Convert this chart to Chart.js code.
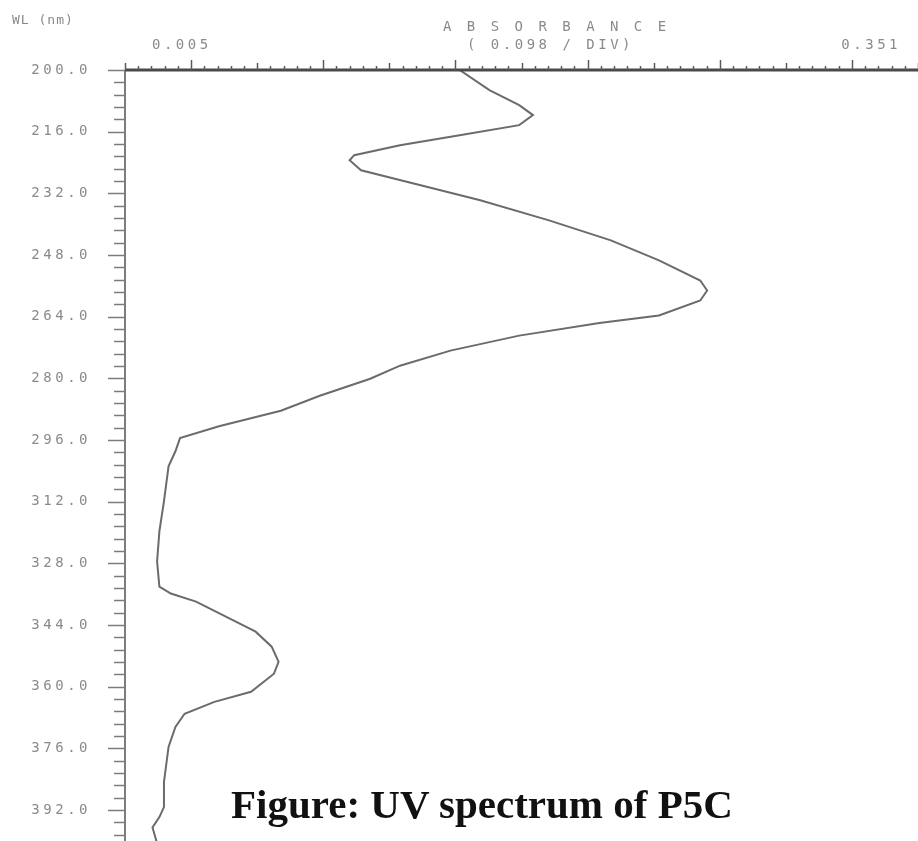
<!DOCTYPE html>
<html>
<head>
<meta charset="utf-8">
<title>UV spectrum of P5C</title>
<script src="https://cdn.jsdelivr.net/npm/chart.js@4.4.1/dist/chart.umd.min.js"></script>
<style>
  html, body { margin: 0; padding: 0; background: #fff; }
  .wrap { position: relative; width: 918px; height: 841px; overflow: hidden; }
  #uv { display: block; }
  .caption {
    position: absolute; left: 231px; top: 784px;
    font: bold 41px "Liberation Serif", "Times New Roman", serif;
    line-height: 41px; color: #111; white-space: nowrap;
  }
</style>
</head>
<body>
<div class="wrap">
  <canvas id="uv" width="918" height="841"></canvas>
  <div class="caption">Figure: UV spectrum of P5C</div>
</div>
<script>
// spectrum (wavelength in nm, absorbance)
const wavelength = [
  200.0, 205.2, 209.1, 211.7, 214.3, 216.9, 219.5, 222.1, 223.4, 226.0,
  229.9, 233.8, 239.0, 244.2, 249.4, 254.6, 257.2, 259.8, 263.7, 265.6,
  268.9, 272.8, 276.7, 280.1, 284.5, 288.4, 292.4, 295.5, 298.9, 302.8,
  311.9, 319.7, 327.5, 334.0, 335.8, 337.9, 341.8, 345.7, 349.6, 353.5,
  356.6, 361.3, 363.9, 367.0, 370.4, 375.6, 384.7, 391.2, 393.8, 396.5, 400.6
];
const absorbance = [
  0.151, 0.164, 0.177, 0.183, 0.177, 0.151, 0.125, 0.105, 0.103, 0.108,
  0.134, 0.160, 0.190, 0.217, 0.238, 0.256, 0.259, 0.256, 0.238, 0.212,
  0.177, 0.147, 0.125, 0.112, 0.090, 0.073, 0.046, 0.029, 0.027, 0.024,
  0.022, 0.020, 0.019, 0.020, 0.025, 0.036, 0.049, 0.062, 0.069, 0.072,
  0.070, 0.060, 0.044, 0.031, 0.027, 0.024, 0.022, 0.022, 0.020, 0.017, 0.019
];

// axis labels as printed by the instrument
const wlTicks = [200, 216, 232, 248, 264, 280, 296, 312, 328, 344, 360, 376, 392];
const wlMinorStep = 3.2;
const absRange = [0.005, 0.351];
const absDivisions = 60;
const absTitle = ['A B S O R B A N C E', '( 0.098 / DIV)'];
const wlTitle = 'WL (nm)';

const GREY_TEXT = '#8a8a8a';

// draws the plotter style frame: ticks, labels, headings
const plotterFrame = {
  id: 'plotterFrame',
  afterDraw(chart) {
    const { ctx, chartArea, scales } = chart;
    const xs = scales.x, ys = scales.y;
    ctx.save();

    // left axis + ticks
    ctx.strokeStyle = '#7c7c7c';
    ctx.lineWidth = 2;
    ctx.beginPath();
    ctx.moveTo(chartArea.left, chartArea.top);
    ctx.lineTo(chartArea.left, chartArea.bottom);
    ctx.stroke();

    ctx.lineWidth = 1.5;
    const nMinor = Math.round((ys.max - ys.min) / wlMinorStep);
    for (let i = 0; i <= nMinor; i++) {
      const v = ys.min + i * wlMinorStep;
      const y = Math.round(ys.getPixelForValue(v)) + 0.5;
      const len = i % 5 === 0 ? 17 : 11;
      ctx.beginPath();
      ctx.moveTo(chartArea.left - len, y);
      ctx.lineTo(chartArea.left, y);
      ctx.stroke();
    }

    // top axis + ticks
    ctx.strokeStyle = '#4a4a4a';
    ctx.lineWidth = 3;
    ctx.beginPath();
    ctx.moveTo(chartArea.left, chartArea.top);
    ctx.lineTo(chartArea.right, chartArea.top);
    ctx.stroke();

    ctx.lineWidth = 1.5;
    ctx.strokeStyle = '#5a5a5a';
    const step = (absRange[1] - absRange[0]) / absDivisions;
    for (let i = 0; i <= absDivisions; i++) {
      const x = Math.round(xs.getPixelForValue(absRange[0] + i * step)) + 0.5;
      let len = 4;
      if (i % 10 === 5) len = 10;
      else if (i % 10 === 0) len = 7;
      ctx.beginPath();
      ctx.moveTo(x, chartArea.top);
      ctx.lineTo(x, chartArea.top - len);
      ctx.stroke();
    }

    // labels
    ctx.fillStyle = GREY_TEXT;
    ctx.font = '14px "DejaVu Sans Mono", monospace';
    ctx.letterSpacing = '3.5px';
    ctx.textBaseline = 'middle';
    ctx.textAlign = 'right';
    wlTicks.forEach(v => {
      ctx.fillText(v.toFixed(1), chartArea.left - 34, ys.getPixelForValue(v));
    });

    ctx.textAlign = 'left';
    ctx.fillText(absRange[0].toFixed(3), xs.getPixelForValue(absRange[0]) + 27, 45);
    ctx.textAlign = 'right';
    ctx.fillText(absRange[1].toFixed(3), xs.getPixelForValue(absRange[1]) - 17, 45);

    ctx.textAlign = 'left';
    ctx.fillText(absTitle[0], 443, 27);
    ctx.fillText(absTitle[1], 467, 45);

    ctx.font = '13px "DejaVu Sans Mono", monospace';
    ctx.letterSpacing = '1px';
    ctx.fillText(wlTitle, 12, 21);

    ctx.restore();
  }
};

new Chart(document.getElementById('uv'), {
  type: 'scatter',
  data: {
    datasets: [{
      label: 'P5C',
      data: wavelength.map((w, i) => ({ x: absorbance[i], y: w })),
      showLine: true,
      borderColor: '#6b6b6b',
      borderWidth: 2,
      pointRadius: 0,
      tension: 0
    }]
  },
  options: {
    responsive: false,
    animation: false,
    devicePixelRatio: 1,
    layout: { padding: { left: 125, top: 70, right: 0, bottom: 0 } },
    scales: {
      x: { type: 'linear', min: absRange[0], max: absRange[1], display: false },
      y: { type: 'linear', min: 200, max: 400, reverse: true, display: false }
    },
    plugins: { legend: { display: false }, tooltip: { enabled: false } }
  },
  plugins: [plotterFrame]
});
</script>
</body>
</html>
